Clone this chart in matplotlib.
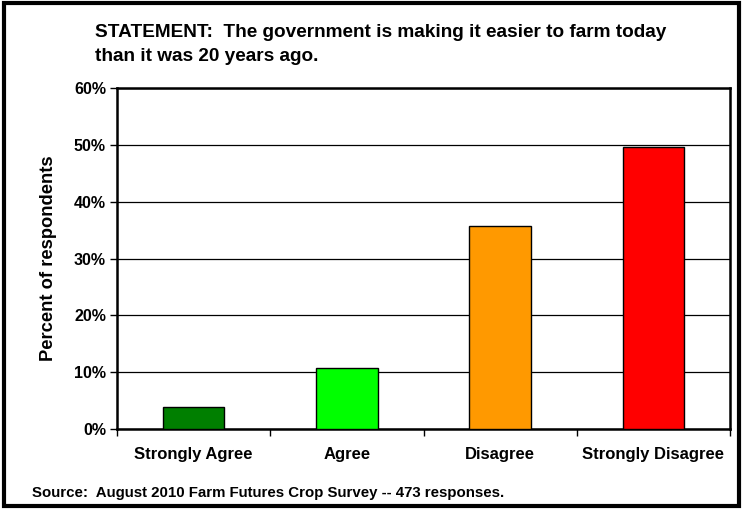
import matplotlib
matplotlib.use("Agg")
from matplotlib import pyplot as plt
from matplotlib.patches import Rectangle
import numpy as np

categories = ["Strongly Agree", "Agree", "Disagree", "Strongly Disagree"]
percents = [3.8, 10.7, 35.7, 49.7]
colors = ["#007F00", "#00FF00", "#FF9900", "#FF0000"]

plt.rcParams['font.family'] = ['Liberation Sans', 'DejaVu Sans']
plt.rcParams['font.weight'] = 'bold'

fig = plt.figure(figsize=(7.43, 5.09), dpi=100)
ax = fig.add_axes([0.1575, 0.157, 0.825, 0.670])

x = np.arange(len(categories))
ax.bar(x, percents, 0.4, color=colors, edgecolor="black", linewidth=1, zorder=3)

ax.set_xlim(-0.5, len(categories) - 0.5)
ax.set_ylim(0, 60)
ax.set_yticks(np.arange(0, 61, 10))
ax.set_yticklabels([f"{v}%" for v in range(0, 61, 10)], fontsize=11.5, fontweight="bold")
ax.yaxis.grid(True, color="black", linewidth=0.9, zorder=0)

ax.set_xticks(x)
ax.set_xticklabels(categories, fontsize=12, fontweight="bold")
ax.tick_params(axis="x", length=0, pad=13)
ax.set_xticks(np.arange(-0.5, len(categories)), minor=True)
ax.tick_params(axis="x", which="minor", length=5, direction="out", width=1)
ax.tick_params(axis="y", length=5, direction="out", width=1, pad=3)

for s in ax.spines.values():
    s.set_linewidth(1.8)
    s.set_color("black")

ax.set_ylabel("Percent of respondents", fontsize=13.2, fontweight="bold", labelpad=12)

fig.text(0.128, 0.952, "STATEMENT:  The government is making it easier to farm today\nthan it was 20 years ago.",
         fontsize=13.7, fontweight="bold", va="top", ha="left", linespacing=1.5)
fig.text(0.043, 0.031, "Source:  August 2010 Farm Futures Crop Survey -- 473 responses.",
         fontsize=10.8, fontweight="bold", va="center", ha="left")

fig.patches.append(Rectangle((0.005, 0.005), 0.99, 0.99, transform=fig.transFigure,
                             fill=False, edgecolor="black", linewidth=3))

fig.savefig("out.png", dpi=100)
